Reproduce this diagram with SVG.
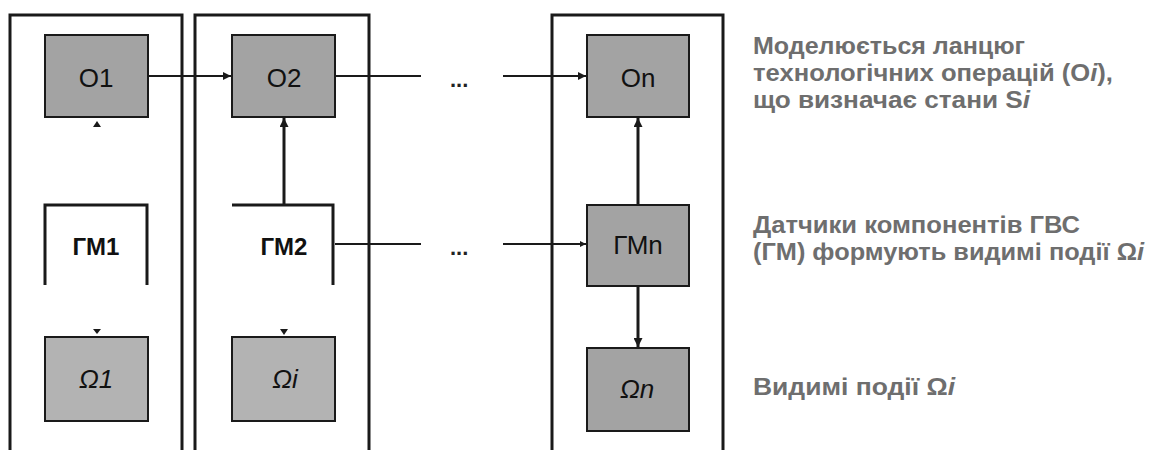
<svg xmlns="http://www.w3.org/2000/svg" width="1151" height="450" viewBox="0 0 1151 450">
<defs>
<style>
.frame{fill:none;stroke:#1a1a1a;stroke-width:3}
.op{fill:#a3a3a3;stroke:#1a1a1a;stroke-width:2}
.om{fill:#b3b3b3;stroke:#1a1a1a;stroke-width:2}
.ln{fill:none;stroke:#1a1a1a;stroke-width:2}
.lv{fill:none;stroke:#1a1a1a;stroke-width:3}
.lbl{font-family:"Liberation Sans",Arial,sans-serif;font-size:26px;fill:#111;text-anchor:middle}
.gm{font-weight:bold;font-size:24px}
.om-t{font-style:italic}
.note{font-family:"Liberation Sans",Arial,sans-serif;font-size:24px;font-weight:bold;fill:#6e6e6e}
.dots{font-family:"Liberation Sans",Arial,sans-serif;font-size:22px;font-weight:bold;fill:#222}
</style>
<marker id="ah" viewBox="0 0 10 10" refX="10" refY="5" markerWidth="4" markerHeight="4" orient="auto" markerUnits="strokeWidth">
<path d="M0,0 L10,5 L0,10 z" fill="#1a1a1a"/>
</marker>
<marker id="ahs" viewBox="0 0 10 10" refX="10" refY="5" markerWidth="3" markerHeight="3" orient="auto" markerUnits="strokeWidth">
<path d="M0,0 L10,5 L0,10 z" fill="#1a1a1a"/>
</marker>
</defs>
<g id="frames">
<path class="frame" d="M10,452 V15 H182 V452"/>
<path class="frame" d="M195,452 V15 H369 V452"/>
<path class="frame" d="M552,452 V15 H723 V452"/>
</g>
<g id="connectors">
<line class="ln" x1="148" y1="76" x2="231" y2="76" marker-end="url(#ah)"/>
<line class="ln" x1="335" y1="76" x2="421" y2="76"/>
<line class="ln" x1="503" y1="76" x2="586" y2="76" marker-end="url(#ah)"/>
<path d="M93,127 L97,121 L101,127 z" fill="#1a1a1a"/>
<path d="M93,329 L97,334 L101,329 z" fill="#1a1a1a"/>
<line class="lv" x1="284" y1="205" x2="284" y2="118" marker-end="url(#ahs)"/>
<path d="M280,329 L284,335 L288,329 z" fill="#1a1a1a"/>
<line class="ln" x1="335" y1="244" x2="421" y2="244"/>
<line class="ln" x1="503" y1="244" x2="586" y2="244" marker-end="url(#ahs)"/>
<line class="lv" x1="638" y1="205" x2="638" y2="118" marker-end="url(#ahs)"/>
<line class="lv" x1="638" y1="286" x2="638" y2="347" marker-end="url(#ahs)"/>
<text class="dots" x="450" y="87">...</text>
<text class="dots" x="450" y="255">...</text>
</g>
<g id="O1"><rect class="op" x="45" y="35" width="103" height="82"/><text class="lbl" x="96" y="87">O1</text></g>
<g id="O2"><rect class="op" x="232" y="35" width="103" height="82"/><text class="lbl" x="284" y="87">O2</text></g>
<g id="On"><rect class="op" x="587" y="35" width="102" height="82"/><text class="lbl" x="638" y="87">On</text></g>
<g id="GM1"><path class="lv" d="M45,285 V205 H147 V285"/><text class="lbl gm" x="96" y="255">ГМ1</text></g>
<g id="GM2"><path class="lv" d="M232,205 H333 V285"/><text class="lbl gm" x="284" y="255">ГМ2</text></g>
<g id="GMn"><rect class="op" x="587" y="205" width="102" height="81"/><text class="lbl" x="638" y="254">ГМn</text></g>
<g id="W1"><rect class="om" x="45" y="337" width="103" height="84"/><text class="lbl om-t" x="96" y="388">Ω1</text></g>
<g id="Wi"><rect class="om" x="232" y="337" width="103" height="84"/><text class="lbl om-t" x="285" y="388">Ωi</text></g>
<g id="Wn"><rect class="op" x="587" y="348" width="102" height="83"/><text class="lbl om-t" x="637" y="398">Ωn</text></g>
<g id="notes">
<text class="note" x="753" y="54" textLength="272" lengthAdjust="spacingAndGlyphs">Моделюється ланцюг</text>
<text class="note" x="753" y="81" textLength="360" lengthAdjust="spacingAndGlyphs">технологічних операцій (O<tspan font-style="italic">i</tspan>),</text>
<text class="note" x="753" y="108" textLength="277" lengthAdjust="spacingAndGlyphs">що визначає стани S<tspan font-style="italic">i</tspan></text>
<text class="note" x="753" y="233" textLength="327" lengthAdjust="spacingAndGlyphs">Датчики компонентів ГВС</text>
<text class="note" x="753" y="260" textLength="391" lengthAdjust="spacingAndGlyphs">(ГМ) формують видимі події Ω<tspan font-style="italic">i</tspan></text>
<text class="note" x="753" y="395" textLength="202" lengthAdjust="spacingAndGlyphs">Видимі події Ω<tspan font-style="italic">i</tspan></text>
</g>
</svg>
